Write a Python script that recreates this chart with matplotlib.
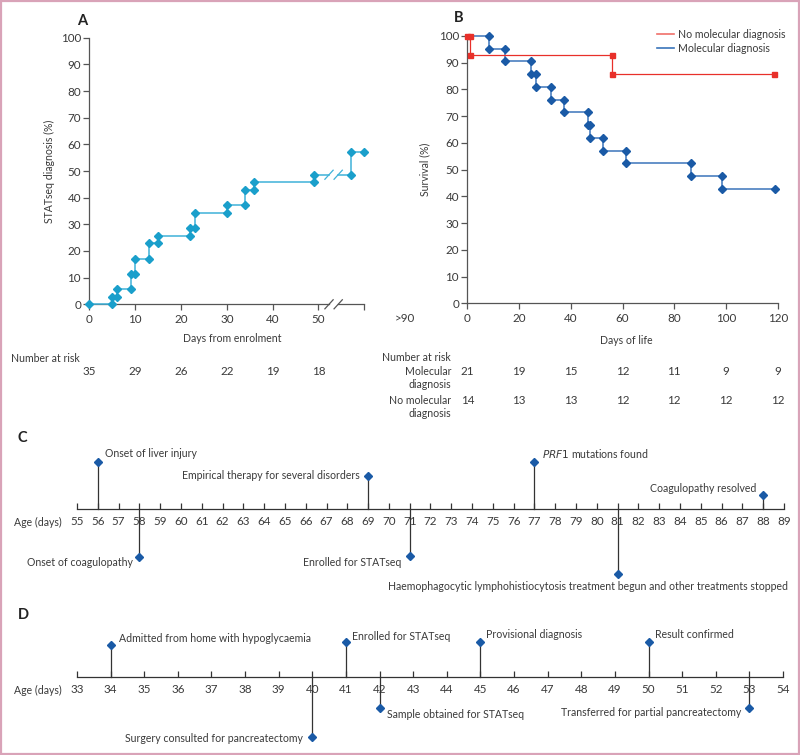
import matplotlib
matplotlib.use("Agg")
import matplotlib.pyplot as plt
from matplotlib.transforms import blended_transform_factory
from matplotlib.patches import Rectangle
from matplotlib.lines import Line2D

plt.rcParams['font.family'] = ['Lato', 'DejaVu Sans']

# ---------------- data ----------------
# Panel A: cumulative STATseq diagnosis (%)
a_days = [0, 5, 6, 9, 10, 13, 15, 22, 23, 30, 34, 36, 49, 57, 60]
a_pct = [0, 2.9, 5.7, 11.4, 17.1, 22.9, 25.7, 28.6, 34.3, 37.1, 42.9, 45.7, 48.6, 57.1, 57.1]
a_ticks = [0, 10, 20, 30, 40, 50, 60]
a_ticklabels = ['0', '10', '20', '30', '40', '50', '']
a_last_label = '>90'
a_risk = [35, 29, 26, 22, 19, 18]
a_risk_days = [0, 10, 20, 30, 40, 50]

# Panel B: survival (%)
mol_days = [0, 8.4, 14.6, 24.6, 26.4, 32.4, 37.5, 46.5, 47.6, 52.5, 61.5, 86.6, 98.6, 119.1]
mol_surv = [100, 95.2, 90.5, 85.7, 81.0, 76.2, 71.4, 66.7, 61.9, 57.1, 52.4, 47.6, 42.9, 42.9]
nomol_days = [0, 1.2, 55.8, 118.6]
nomol_surv = [100, 92.9, 85.7, 85.7]
b_risk_days = [0, 20, 40, 60, 80, 100, 120]
b_risk_groups = ['Molecular\ndiagnosis', 'No molecular\ndiagnosis']
b_risk_mol = [21, 19, 15, 12, 11, 9, 9]
b_risk_nomol = [14, 13, 13, 12, 12, 12, 12]

# Panel C timeline
c_days = [56, 58, 69, 71, 77, 81, 88]
c_events = ['Onset of liver injury', 'Onset of coagulopathy',
            'Empirical therapy for several disorders', 'Enrolled for STATseq',
            r'$\it{PRF1}$ mutations found',
            'Haemophagocytic lymphohistiocytosis treatment begun and other treatments stopped',
            'Coagulopathy resolved']
# Panel D timeline
d_days = [34, 40, 41, 42, 45, 50, 53]
d_events = ['Admitted from home with hypoglycaemia', 'Surgery consulted for pancreatectomy',
            'Enrolled for STATseq', 'Sample obtained for STATseq', 'Provisional diagnosis',
            'Result confirmed', 'Transferred for partial pancreatectomy']

# ---------------- layout / style ----------------
W, H = 800, 755
fig = plt.figure(figsize=(W / 100, H / 100), dpi=100)
TXT = '#3a3a3a'
AX = '#555555'
FS = 7.6
TFS = 8.4
MS = 4.2

def fy(py):
    return 1 - py / H

def fx(px):
    return px / W

fig.patches.append(Rectangle((0.001, 0.001), 0.998, 0.998, transform=fig.transFigure,
                             fill=False, edgecolor='#d9a3b8', linewidth=1.6))

def style_axes(ax):
    for s in ['top', 'right']:
        ax.spines[s].set_visible(False)
    for s in ['left', 'bottom']:
        ax.spines[s].set_color(AX)
        ax.spines[s].set_linewidth(0.9)
    ax.tick_params(colors=AX, labelcolor=TXT, labelsize=TFS, length=4, width=0.9, pad=2)

def step_points(days, vals):
    xs, ys, mx, my = [days[0]], [vals[0]], [days[0]], [vals[0]]
    for i in range(1, len(days)):
        xs += [days[i], days[i]]
        ys += [vals[i - 1], vals[i]]
        if vals[i] != vals[i - 1]:
            mx += [days[i], days[i]]
            my += [vals[i - 1], vals[i]]
        else:
            mx += [days[i]]
            my += [vals[i]]
    return xs, ys, mx, my

# ---------------- Panel A ----------------
axA = fig.add_axes([fx(89.3), fy(304.3), fx(364.3 - 89.3), (304.3 - 37.7) / H])
style_axes(axA)
axA.set_xlim(0, 60)
axA.set_ylim(0, 100)
axA.set_yticks(range(0, 101, 10))
axA.set_xticks(a_ticks)
axA.set_xticklabels(a_ticklabels)
axA.tick_params(axis='x', pad=3)
axA.spines['bottom'].set_visible(False)
teal = '#1a9fcb'
teal_line = '#3fb2d9'
brk1, brk2 = 52.3, 54.3
xs, ys, mx, my = step_points(a_days, a_pct)
seg1x, seg1y, seg2x, seg2y = [], [], [], []
for x, y in zip(xs, ys):
    if x <= 49:
        seg1x.append(x); seg1y.append(y)
    else:
        seg2x.append(x); seg2y.append(y)
axA.plot(seg1x + [brk1], seg1y + [seg1y[-1]], color=teal_line, lw=1.1, clip_on=False)
axA.plot([brk2] + seg2x, [seg1y[-1]] + seg2y, color=teal_line, lw=1.1, clip_on=False)
axA.plot(mx, my, ls='none', marker='D', ms=MS, color=teal, clip_on=False, zorder=3)
axA.plot([0, brk1], [0, 0], color=AX, lw=0.9, clip_on=False, zorder=1)
axA.plot([brk2, 60], [0, 0], color=AX, lw=0.9, clip_on=False, zorder=1)
for yb, c in [(0, AX), (seg1y[-1], teal_line)]:
    for xb in (brk1, brk2):
        axA.plot([xb - 0.9, xb + 0.9], [yb - 1.7, yb + 1.7], color=c, lw=0.9, clip_on=False)
axA.text(fx(405), fy(318), a_last_label, transform=fig.transFigure, ha='center', va='center',
         fontsize=TFS, color=TXT)
axA.set_ylabel('STATseq diagnosis (%)', fontsize=FS, color=TXT)
axA.yaxis.set_label_coords(-0.125, 0.5)
fig.text(fx(232), fy(339), 'Days from enrolment', ha='center', va='center', fontsize=FS, color=TXT)
fig.text(fx(11), fy(358), 'Number at risk', ha='left', va='center', fontsize=FS, color=TXT)
trA = blended_transform_factory(axA.transData, fig.transFigure)
for d, n in zip(a_risk_days, a_risk):
    axA.text(d, fy(372), str(n), transform=trA, ha='center', va='center', fontsize=TFS, color=TXT)
fig.text(fx(77), fy(21), 'A', ha='left', va='center', fontsize=10.5, fontweight='bold', color='#222222')

# ---------------- Panel B ----------------
axB = fig.add_axes([fx(467.3), fy(303.3), fx(777.7 - 467.3), (303.3 - 36) / H])
style_axes(axB)
axB.set_xlim(0, 120)
axB.set_ylim(0, 100)
axB.set_yticks(range(0, 101, 10))
axB.set_xticks(range(0, 121, 20))
axB.tick_params(axis='x', pad=3)
blue = '#1a5aa6'
blue_line = '#3a74ba'
red = '#e8302a'
xs, ys, mx, my = step_points(mol_days, mol_surv)
axB.plot(xs, ys, color=blue_line, lw=1.1, clip_on=False)
axB.plot(mx[1:], my[1:], ls='none', marker='D', ms=MS, color=blue, clip_on=False, zorder=3)
xs, ys, mx, my = step_points(nomol_days, nomol_surv)
axB.plot(xs, ys, color=red, lw=0.9, clip_on=False, zorder=4)
axB.plot(mx, my, ls='none', marker='s', ms=3.6, color=red, clip_on=False, zorder=5)
handles = [Line2D([], [], color='#f0706a', lw=1.2), Line2D([], [], color=blue_line, lw=1.2)]
axB.legend(handles, ['No molecular diagnosis', 'Molecular diagnosis'], loc='upper left',
           bbox_to_anchor=(fx(657), fy(29)), bbox_transform=fig.transFigure, frameon=False,
           fontsize=FS, handlelength=1.6, handletextpad=0.35, labelspacing=0.3,
           borderpad=0, borderaxespad=0, labelcolor=TXT)
axB.set_ylabel('Survival (%)', fontsize=FS, color=TXT)
axB.yaxis.set_label_coords(-0.12, 0.5)
fig.text(fx(626), fy(341), 'Days of life', ha='center', va='center', fontsize=FS, color=TXT)
fig.text(fx(451), fy(357), 'Number at risk', ha='right', va='center', fontsize=FS, color=TXT)
trB = blended_transform_factory(axB.transData, fig.transFigure)
for grp, vals, ypx in zip(b_risk_groups, [b_risk_mol, b_risk_nomol], [372, 401]):
    fig.text(fx(451), fy(ypx - 6), grp, ha='right', va='top', fontsize=FS, color=TXT,
             linespacing=1.25)
    for d, n in zip(b_risk_days, vals):
        axB.text(d, fy(ypx), str(n), transform=trB, ha='center', va='center', fontsize=TFS, color=TXT)
fig.text(fx(454), fy(18), 'B', ha='left', va='center', fontsize=10.5, fontweight='bold', color='#222222')

# ---------------- timelines ----------------
def timeline(x0, x1, top, axis_y, bottom, lo, hi, days, events, levels, offsets, aligns, label):
    ax = fig.add_axes([fx(x0), fy(bottom), fx(x1 - x0), (bottom - top) / H])
    ax.set_xlim(lo, hi)
    ax.set_ylim(-(bottom - axis_y), axis_y - top)
    for s in ['top', 'right', 'left']:
        ax.spines[s].set_visible(False)
    ax.spines['bottom'].set_position(('data', 0))
    ax.spines['bottom'].set_color('#333333')
    ax.spines['bottom'].set_linewidth(0.9)
    ax.set_yticks([])
    ax.set_xticks(range(lo, hi + 1))
    ax.tick_params(axis='x', direction='in', length=4, width=0.9, colors='#333333',
                   labelcolor=TXT, labelsize=TFS, pad=5)
    ax.patch.set_alpha(0)
    for d, ev, lv, off, al in zip(days, events, levels, offsets, aligns):
        ax.plot([d, d], [0, lv], color='#333333', lw=0.9, zorder=2)
        ax.plot([d], [lv], marker='D', ms=MS, color=blue, ls='none', zorder=3, clip_on=False)
        ax.annotate(ev, (d, lv), xytext=off, textcoords='offset pixels', ha=al, va='center',
                    fontsize=FS, color=TXT)
    ax.text(-0.021, -13, 'Age (days)',
            transform=blended_transform_factory(ax.transAxes, ax.transData),
            ha='right', va='center', fontsize=FS, color=TXT)
    fig.text(fx(18), fy(top + 8), label, ha='left', va='center', fontsize=10.5,
             fontweight='bold', color='#222222')
    return ax

# Panel C
c_levels = [47, -48, 33, -47, 47, -65, 14]
c_offsets = [(7, 8), (-7, -5), (-8, 0), (-8, -6), (8, 8), (170, -12), (-7, 6)]
c_aligns = ['left', 'right', 'right', 'right', 'left', 'right', 'right']
timeline(77, 784, 430, 509, 600, 55, 89, c_days, c_events, c_levels, c_offsets, c_aligns, 'C')

# Panel D
d_levels = [32, -60, 35, -31, 35, 35, -31]
d_offsets = [(8, 7), (-9, -1), (6, 6), (7, -7), (6, 7), (6, 7), (-8, -4)]
d_aligns = ['left', 'right', 'left', 'left', 'left', 'left', 'right']
timeline(77, 783, 607, 677, 755, 33, 54, d_days, d_events, d_levels, d_offsets, d_aligns, 'D')

fig.savefig('out.png', dpi=100)
